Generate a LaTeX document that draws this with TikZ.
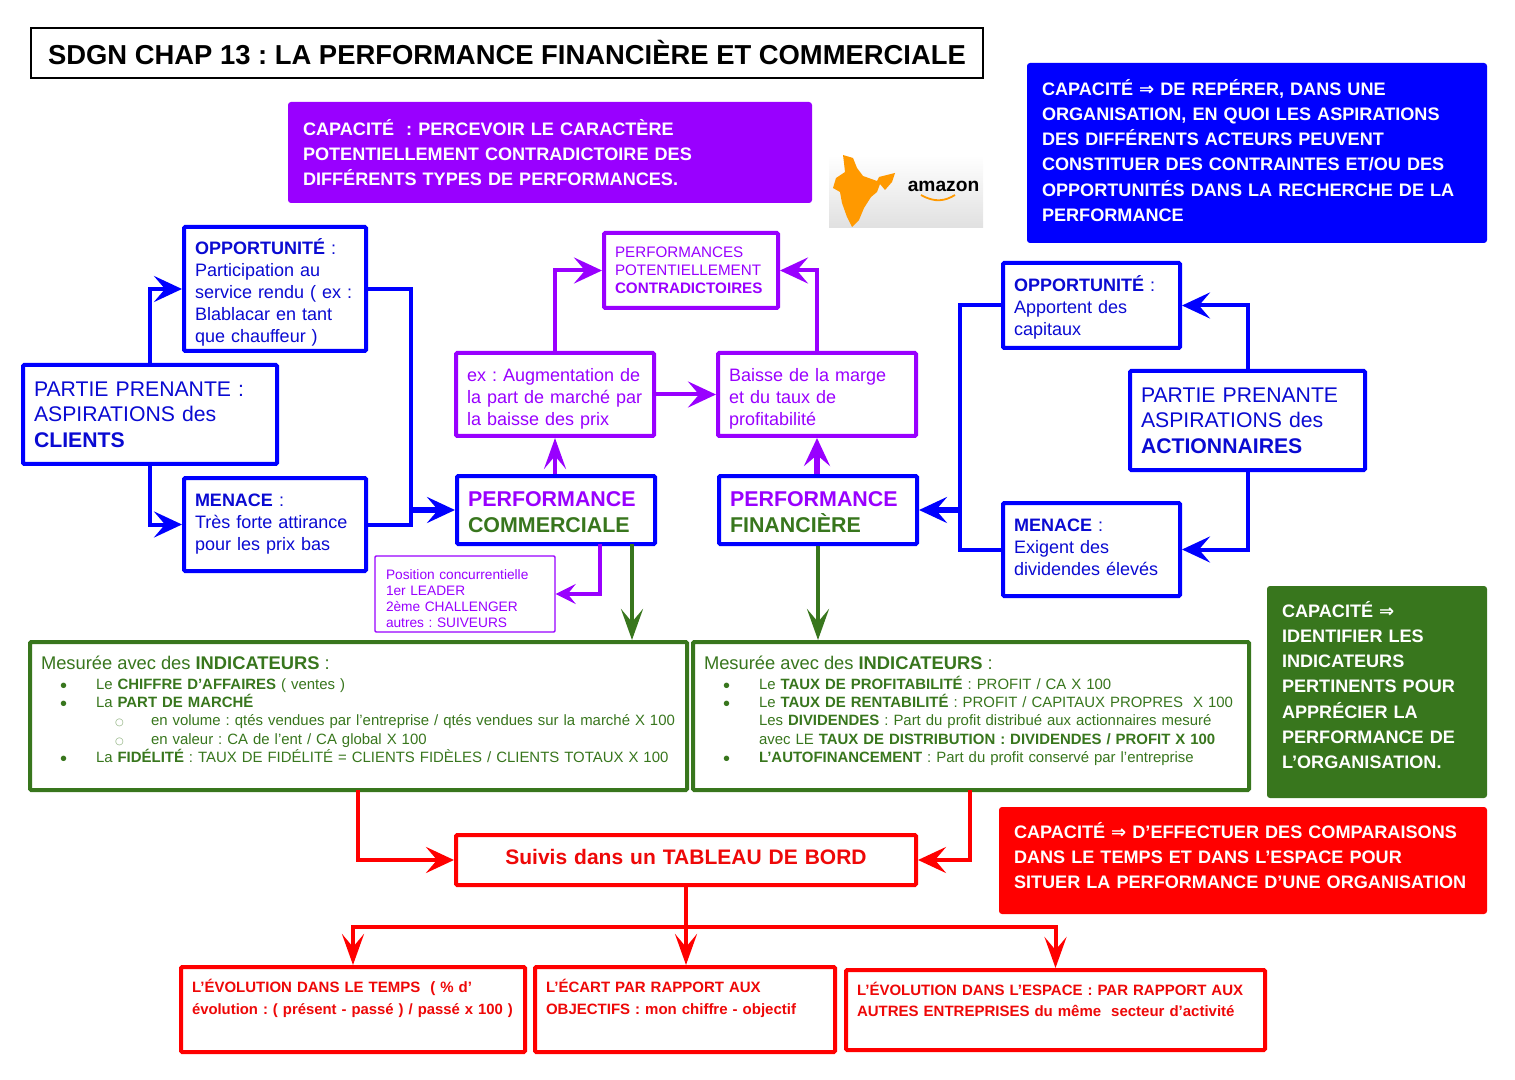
\documentclass[tikz,border=0pt]{standalone}
\usepackage{fontspec}
\setmainfont{Liberation Sans}
\newfontfamily\symfont{DejaVu Sans}
\usetikzlibrary{arrows.meta,positioning,calc}
\definecolor{mapblue}{HTML}{0000FF}
\definecolor{mapbluetext}{HTML}{0A0AD2}
\definecolor{mappurple}{HTML}{9900FF}
\definecolor{mapgreen}{HTML}{38761D}
\definecolor{mapred}{HTML}{FF0000}
\definecolor{mapredtext}{HTML}{EE0808}
\definecolor{maporange}{HTML}{FF9900}
\newcommand{\fsize}[2]{\frenchspacing\fontsize{#1}{#2}\selectfont}
\newcommand{\impl}{{\symfont ⇒}}
\newcommand{\itemone}[1]{\hspace*{9.5pt}\makebox[18pt][l]{\raisebox{-1.4pt}[0pt][0pt]{\fsize{10}{9}\textbullet}}\mbox{#1}}
\newcommand{\itemtwo}[1]{\hspace*{37pt}\makebox[18pt][l]{\textcolor{mapgreen!60}{\fsize{5}{6}\symfont ○}}\mbox{#1}}
\tikzset{
  boxsize/.style 2 args={minimum width=#1,minimum height=#2,text width={#1-11pt}},
  capasize/.style 2 args={minimum width=#1,minimum height=#2,text width={#1-15pt}},
  basebox/.style={draw,line width=2pt,rounded corners=0.6pt,inner xsep=5.5pt,inner ysep=0pt,align=left,fill=white},
  bluebox/.style={basebox,draw=mapblue,text=mapbluetext},
  purplebox/.style={basebox,draw=mappurple,text=mappurple},
  greenbox/.style={basebox,draw=mapgreen,text=mapgreen},
  redbox/.style={basebox,draw=mapred,text=mapredtext,font=\bfseries\fsize{7.5}{11}},
  capabox/.style={fill=#1,rounded corners=1.5pt,inner xsep=7.5pt,inner ysep=0pt,align=left,text=white,font=\bfseries\fsize{9.05}{12.65}},
  link/.style={line width=2pt,-{Stealth[length=14pt,width=13pt,inset=5.5pt]}},
  narrowlink/.style={line width=2pt,-{Stealth[length=15.5pt,width=11pt,inset=6.5pt]}},
  plainlink/.style={line width=2pt},
  biglink/.style={line width=3pt,-{Stealth[length=14pt,width=13pt,inset=5.5pt]}},
  smalllink/.style={line width=1.7pt,-{Stealth[length=10pt,width=10pt,inset=4pt]}}
}
\begin{document}
\begin{tikzpicture}[x=0.5pt,y=-0.5pt,font=\fsize{9}{11}]
  \useasboundingbox (0,0) rectangle (1515,1080);
  % title and capacity blocks
  \node[draw=black,line width=0.8pt,minimum width=476pt,minimum height=25pt,inner sep=0pt,font=\bfseries\fsize{13.7}{16}] (title) at (507,53) {SDGN CHAP 13 : LA PERFORMANCE FINANCIÈRE ET COMMERCIALE};
  \node[capabox=mappurple,capasize={262pt}{50.5pt}] (capapurple) at (550,152.5) {CAPACITÉ\ \ : PERCEVOIR LE CARACTÈRE\\POTENTIELLEMENT CONTRADICTOIRE DES\\DIFFÉRENTS TYPES DE PERFORMANCES.};
  \node[capabox=mapblue,capasize={230pt}{90pt},text depth=66pt] (capablue) at (1257,153) {CAPACITÉ \impl{} DE REPÉRER, DANS UNE\\ORGANISATION, EN QUOI LES ASPIRATIONS\\DES DIFFÉRENTS ACTEURS PEUVENT\\CONSTITUER DES CONTRAINTES ET/OU DES\\OPPORTUNITÉS DANS LA RECHERCHE DE LA\\PERFORMANCE};
  \node[capabox=mapgreen,capasize={110pt}{106pt},text depth=83pt] (capagreen) at (1377,692) {CAPACITÉ \impl\\IDENTIFIER LES\\INDICATEURS\\PERTINENTS POUR\\APPRÉCIER LA\\PERFORMANCE DE\\L'ORGANISATION.};
  \node[capabox=mapred,capasize={244pt}{53.5pt},text depth=30.3pt] (capared) at (1243,860.5) {CAPACITÉ \impl{} D’EFFECTUER DES COMPARAISONS\\DANS LE TEMPS ET DANS L’ESPACE POUR\\SITUER LA PERFORMANCE D’UNE ORGANISATION};
  % logo
  \shade[top color=white,bottom color=black!12] (829,155) rectangle (983,228);
  \fill[maporange] (843,155) -- (853,158) -- (857,168) -- (863,176) -- (877,181) -- (879,177) -- (895,173) -- (892,182) -- (885,190) -- (880,184) -- (877,192) -- (871,197) -- (864,208) -- (859,220) -- (852,227) -- (847,217) -- (842,203) -- (840,192) -- (833,188) -- (836,178) -- (845,172) -- (844,163) -- cycle;
  \node[font=\bfseries\fsize{9.6}{11},inner sep=0pt] (amazon) at (943.5,186) {amazon};
  \draw[maporange,line width=0.9pt] (921,195) .. controls (935,203) and (945,201) .. (955,195);
  % left side
  \node[bluebox,boxsize={127pt}{49.5pt},font=\fsize{10.6}{12.7}] (clients) at (150,414.5) {PARTIE PRENANTE :\\ASPIRATIONS des\\\textbf{CLIENTS}};
  \node[bluebox,boxsize={91pt}{62pt},text depth=42pt] (opp) at (275,289) {\textbf{OPPORTUNITÉ} :\\Participation au\\service rendu ( ex :\\Blablacar en tant\\que chauffeur )};
  \node[bluebox,boxsize={91pt}{46.5pt}] (menace) at (275,524.5) {\textbf{MENACE} :\\Très forte attirance\\pour les prix bas};
  % performances
  \node[bluebox,boxsize={99pt}{34pt},text depth=10.5pt,font=\bfseries\fsize{10.7}{12.7}] (perfcomm) at (556,510) {\textcolor{mappurple}{PERFORMANCE}\\\textcolor{mapgreen}{COMMERCIALE}};
  \node[bluebox,boxsize={99pt}{34pt},text depth=10.5pt,font=\bfseries\fsize{10.7}{12.7}] (perffin) at (818,510) {\textcolor{mappurple}{PERFORMANCE}\\\textcolor{mapgreen}{FINANCIÈRE}};
  \node[purplebox,boxsize={87pt}{37.5pt},font=\fsize{7.6}{9}] (contra) at (691,270.5) {PERFORMANCES\\POTENTIELLEMENT\\\textbf{CONTRADICTOIRES}};
  \node[purplebox,boxsize={99pt}{41.5pt},text depth=20pt] (ex) at (555,394.5) {ex : Augmentation de\\la part de marché par\\la baisse des prix};
  \node[purplebox,boxsize={99pt}{41.5pt},text depth=20pt] (baisse) at (817,394.5) {Baisse de la marge\\et du taux de\\profitabilité};
  \node[purplebox,line width=0.7pt,boxsize={90pt}{38pt},text depth=19.8pt,font=\fsize{6.85}{8}] (position) at (465,594) {Position concurrentielle\\1er LEADER\\2ème CHALLENGER\\autres : SUIVEURS};
  % right side
  \node[bluebox,boxsize={88.5pt}{42.5pt},text depth=21.5pt] (oppr) at (1091.5,305.5) {\textbf{OPPORTUNITÉ} :\\Apportent des\\capitaux};
  \node[bluebox,boxsize={117.5pt}{49.5pt},font=\fsize{10.6}{12.7}] (actio) at (1247.5,420.5) {PARTIE PRENANTE\\ASPIRATIONS des\\\textbf{ACTIONNAIRES}};
  \node[bluebox,boxsize={88.5pt}{46.5pt},text depth=24.5pt] (menacer) at (1091.5,549.5) {\textbf{MENACE} :\\Exigent des\\dividendes élevés};
  % indicators
  \node[greenbox,boxsize={328.5pt}{74pt},text depth=53pt,font=\fsize{7.47}{9.15}] (indicom) at (358.5,716) {{\fsize{9.17}{10}Mesurée avec des \textbf{INDICATEURS} :}\\[0.6pt]
    \itemone{Le \textbf{CHIFFRE D'AFFAIRES} ( ventes )}\\
    \itemone{La \textbf{PART DE MARCHÉ}}\\
    \itemtwo{en volume : qtés vendues par l’entreprise / qtés vendues sur la marché X 100}\\
    \itemtwo{en valeur : CA de l’ent / CA global X 100}\\
    \itemone{La \textbf{FIDÉLITÉ} : TAUX DE FIDÉLITÉ = CLIENTS FIDÈLES / CLIENTS TOTAUX X 100}};
  \node[greenbox,boxsize={278pt}{74pt},text depth=53pt,font=\fsize{7.47}{9.15}] (indifin) at (971,716) {{\fsize{9.17}{10}Mesurée avec des \textbf{INDICATEURS} :}\\[0.6pt]
    \itemone{Le \textbf{TAUX DE PROFITABILITÉ} : PROFIT / CA X 100}\\
    \itemone{Le \textbf{TAUX DE RENTABILITÉ} : PROFIT / CAPITAUX PROPRES\ \ X 100}\\
    \hspace*{27.5pt}Les \textbf{DIVIDENDES} : Part du profit distribué aux actionnaires mesuré\\
    \hspace*{27.5pt}avec LE \textbf{TAUX DE DISTRIBUTION : DIVIDENDES / PROFIT X 100}\\
    \itemone{\textbf{L’AUTOFINANCEMENT} : Part du profit conservé par l’entreprise}};
  % dashboard
  \node[redbox,boxsize={230pt}{25pt},align=center,text depth=3.2pt,font=\bfseries\fsize{10.5}{12}] (tableau) at (686,860) {Suivis dans un TABLEAU DE BORD};
  \node[redbox,boxsize={172pt}{42.5pt},text depth=24pt] (evol) at (353,1009.5) {L’ÉVOLUTION DANS LE TEMPS\ \ ( \% d’\\\mbox{\fsize{7.43}{11}évolution : ( présent - passé ) / passé x 100 )}};
  \node[redbox,boxsize={150pt}{42.5pt},text depth=24pt] (ecart) at (685,1009.5) {L’ÉCART PAR RAPPORT AUX\\OBJECTIFS : mon chiffre - objectif};
  \node[redbox,boxsize={209.5pt}{40pt},text depth=21pt,font=\bfseries\fsize{7.5}{10.2}] (espace) at (1055.5,1010) {L’ÉVOLUTION DANS L’ESPACE : PAR RAPPORT AUX\\AUTRES ENTREPRISES du même\ \ secteur d’activité};
  % free ends of the connectors
  \coordinate (joinl) at (411,524.5);
  \coordinate (joinr) at (960,549.5);
  \coordinate (dropposition) at (600,544);
  \coordinate (dropgreen) at (632,544);
  \coordinate (dropredl) at (358,790);
  \coordinate (dropredr) at (970,790);
  \coordinate (splitred) at (686,927);
  % blue links
  \draw[link,mapblue] (clients.north) |- (opp.west);
  \draw[link,mapblue] (clients.south) |- (menace.west);
  \draw[plainlink,mapblue] (opp.east) -| (joinl) -- (menace.east);
  \draw[biglink,mapblue] (perfcomm.west -| joinl) -- (perfcomm.west);
  \draw[link,mapblue] (actio.north) |- (oppr.east);
  \draw[link,mapblue] (actio.south) |- (menacer.east);
  \draw[plainlink,mapblue] (oppr.west) -| (joinr) -- (menacer.west);
  \draw[biglink,mapblue] (perffin.east -| joinr) -- (perffin.east);
  % purple links
  \draw[link,mappurple] (ex.north) |- (contra.west);
  \draw[link,mappurple] (baisse.north) |- (contra.east);
  \draw[link,mappurple] (ex.east) -- (baisse.west);
  \draw[narrowlink,mappurple] (perfcomm.north -| ex.south) -- (ex.south);
  \draw[biglink,mappurple] (perffin.north -| baisse.south) -- (baisse.south);
  \draw[smalllink,mappurple] (dropposition) |- (position.east);
  % green links
  \draw[narrowlink,mapgreen] (dropgreen) -- (dropgreen |- indicom.north);
  \draw[narrowlink,mapgreen] (perffin.south) -- (perffin.south |- indifin.north);
  % red links
  \draw[link,mapred] (dropredl) |- (tableau.west);
  \draw[link,mapred] (dropredr) |- (tableau.east);
  \draw[narrowlink,mapred] (tableau.south) -- (tableau.south |- ecart.north);
  \draw[narrowlink,mapred] (splitred) -| (evol.north);
  \draw[narrowlink,mapred] (splitred) -| (espace.north);
\end{tikzpicture}
\end{document}
